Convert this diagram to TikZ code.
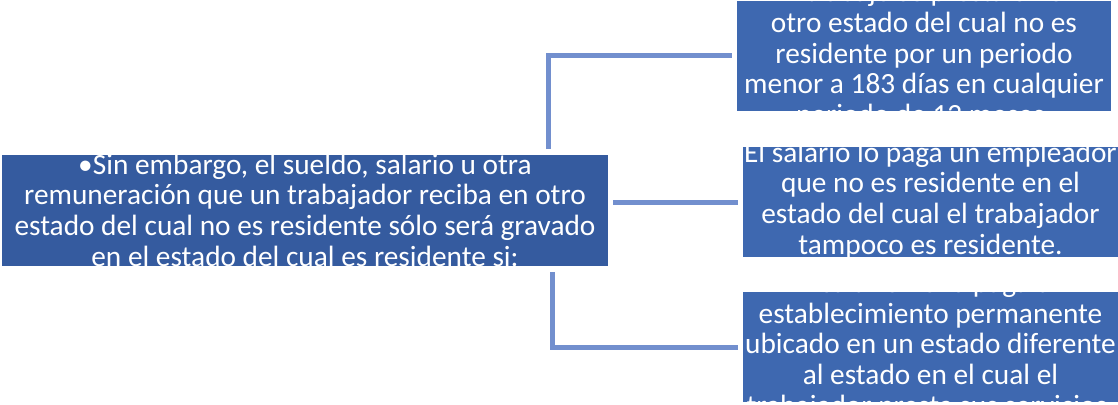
\documentclass[tikz,border=0pt]{standalone}
\usepackage{fontspec}
\setmainfont{Carlito}
\usetikzlibrary{positioning}

\definecolor{mainblue}{RGB}{53,91,159}
\definecolor{condblue}{RGB}{62,104,176}
\definecolor{linkblue}{RGB}{114,143,206}

\begin{document}
\begin{tikzpicture}[
    x=0.75pt, y=-0.75pt,
    mainbox/.style={rectangle, fill=mainblue, inner sep=0pt, outer sep=0pt, minimum width=454.5pt, minimum height=83.25pt},
    condbox/.style={rectangle, fill=condblue, inner sep=0pt, outer sep=0pt, minimum width=281.25pt, minimum height=82.5pt},
    boxtext/.style={anchor=base, align=center, text=white, inner sep=0pt, font=\fontsize{22}{23}\selectfont},
    link/.style={draw=linkblue, line width=3.75pt}
]
\useasboundingbox (0,0) rectangle (1118,404);

% Main statement
\node[mainbox] (remun) at (305,210.5) {};
\begin{scope}
\clip (remun.south west) rectangle (remun.north east);
\node[boxtext] (remuntxt) at (305,266) {•Sin embargo, el sueldo, salario u otra\\remuneración que un trabajador reciba en otro\\estado del cual no es residente sólo será gravado\\en el estado del cual es residente si:};
\end{scope}

% Conditions
\node[condbox, minimum width=280.5pt] (plazo) at (924,55.5) {};
\node[condbox] (patron) at (930.5,202) {};
\node[condbox] (estab) at (930.5,347) {};

\begin{scope}
\clip (plazo.south west) rectangle (plazo.north east);
\node[boxtext] (plazotxt) at (924,124.5) {El trabajo se presta en el\\otro estado del cual no es\\residente por un periodo\\menor a 183 días en cualquier\\periodo de 12 meses.};
\end{scope}
\begin{scope}
\clip (patron.south west) rectangle (patron.north east);
\node[boxtext] (patrontxt) at (930.5,254) {El salario lo paga un empleador\\que no es residente en el\\estado del cual el trabajador\\tampoco es residente.};
\end{scope}
\begin{scope}
\clip (estab.south west) rectangle (estab.north east);
\node[boxtext] (estabtxt) at (930.5,415) {El salario no lo paga un\\establecimiento permanente\\ubicado en un estado diferente\\al estado en el cual el\\trabajador presta sus servicios.};
\end{scope}

% Connectors
\coordinate (topfoot) at ([xshift=182.25pt, yshift=4.5pt]remun.north);
\coordinate (botfoot) at ([xshift=185.25pt, yshift=-4.5pt]remun.south);
\draw[link, shorten >=4pt] (topfoot) |- (plazo.west);
\draw[link, shorten <=4pt, shorten >=4pt] (remun.east |- patron.west) -- (patron.west);
\draw[link, shorten >=4pt] (botfoot) |- (estab.west);

\end{tikzpicture}
\end{document}
